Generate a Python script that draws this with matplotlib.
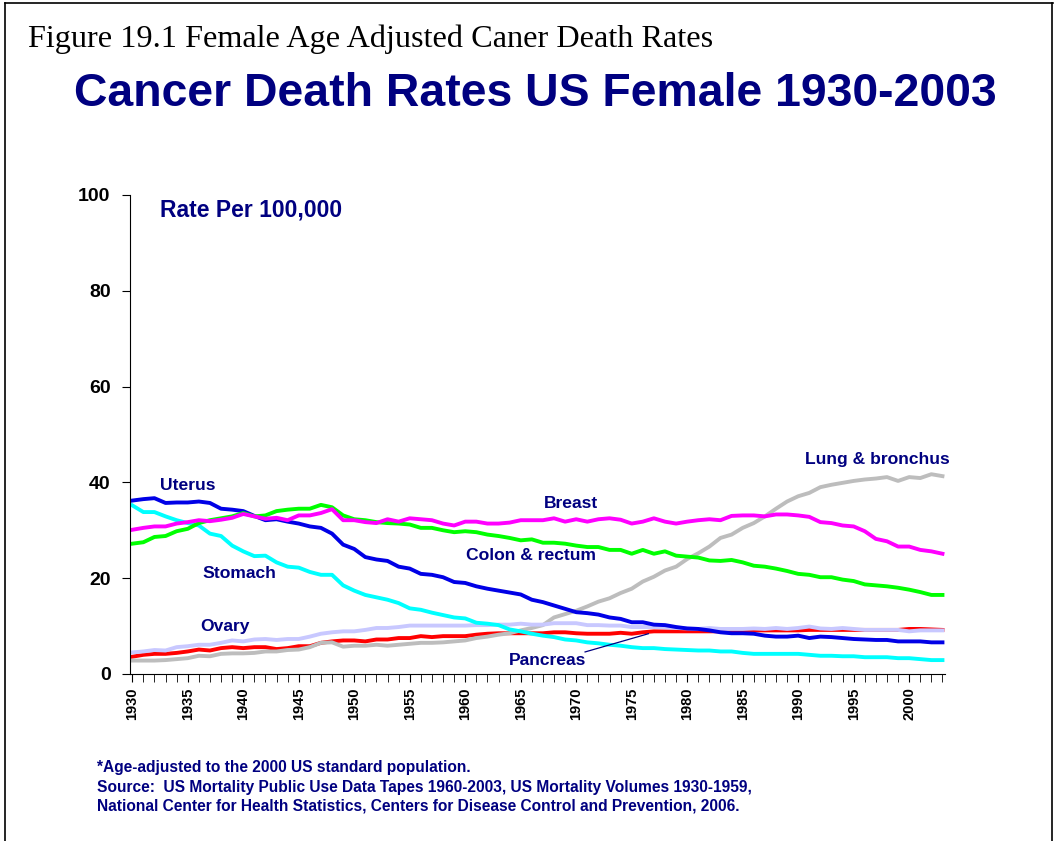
"""
female cancer death rates, US 1930-2003
"""

import matplotlib
matplotlib.use('Agg')
import matplotlib.pyplot as plt
from matplotlib.lines import Line2D
from matplotlib.ticker import MultipleLocator

years = list(range(1930, 2004))

# 数值从原图读出（每十万人死亡率）
uterus = [36.2, 36.5, 36.7, 35.7, 35.8, 35.8, 36.0, 35.7, 34.5, 34.3,
          34.0, 33.0, 32.1, 32.3, 31.8, 31.4, 30.8, 30.5, 29.3, 27.0,
          26.1, 24.4, 23.9, 23.6, 22.4, 22.0, 20.9, 20.7, 20.2, 19.2,
          19.0, 18.3, 17.8, 17.4, 17.0, 16.6, 15.5, 15.0, 14.3, 13.6,
          12.9, 12.7, 12.4, 11.8, 11.5, 10.8, 10.8, 10.3, 10.2, 9.8,
          9.5, 9.4, 9.1, 8.7, 8.5, 8.5, 8.4, 8.0, 7.8, 7.8,
          8.0, 7.5, 7.8, 7.7, 7.5, 7.3, 7.2, 7.1, 7.1, 6.8,
          6.8, 6.8, 6.6, 6.6]
stomach = [35.2, 33.8, 33.8, 32.9, 32.1, 31.5, 31.0, 29.3, 28.8, 26.8,
           25.6, 24.6, 24.7, 23.3, 22.4, 22.2, 21.3, 20.7, 20.7, 18.5,
           17.4, 16.5, 16.0, 15.5, 14.8, 13.7, 13.4, 12.8, 12.3, 11.8,
           11.6, 10.7, 10.5, 10.2, 9.3, 8.9, 8.4, 8.0, 7.7, 7.2,
           7.0, 6.6, 6.4, 6.1, 5.9, 5.6, 5.4, 5.4, 5.2, 5.1,
           5.0, 4.9, 4.9, 4.7, 4.7, 4.4, 4.2, 4.2, 4.2, 4.2,
           4.2, 4.0, 3.8, 3.8, 3.7, 3.7, 3.5, 3.5, 3.5, 3.3,
           3.3, 3.1, 2.9, 2.9]
breast = [30.1, 30.5, 30.8, 30.8, 31.4, 31.7, 32.1, 31.9, 32.2, 32.6,
          33.4, 32.9, 32.4, 32.6, 32.1, 33.1, 33.1, 33.6, 34.4, 32.1,
          32.1, 31.7, 31.5, 32.3, 31.8, 32.5, 32.3, 32.1, 31.4, 31.0,
          31.8, 31.8, 31.4, 31.4, 31.6, 32.1, 32.1, 32.1, 32.5, 31.8,
          32.3, 31.8, 32.3, 32.5, 32.2, 31.4, 31.8, 32.5, 31.8, 31.4,
          31.8, 32.1, 32.3, 32.1, 33.0, 33.1, 33.1, 32.9, 33.3, 33.3,
          33.1, 32.8, 31.7, 31.5, 31.0, 30.8, 29.8, 28.2, 27.7, 26.6,
          26.6, 25.9, 25.6, 25.1]
colon = [27.2, 27.5, 28.6, 28.8, 29.8, 30.3, 31.5, 32.1, 32.5, 32.9,
         33.6, 32.9, 33.1, 34.0, 34.3, 34.5, 34.5, 35.3, 34.8, 33.1,
         32.3, 32.1, 31.7, 31.5, 31.4, 31.2, 30.5, 30.5, 30.0, 29.6,
         29.8, 29.6, 29.1, 28.8, 28.4, 27.9, 28.1, 27.4, 27.4, 27.2,
         26.8, 26.5, 26.5, 25.9, 25.9, 25.1, 25.9, 25.1, 25.6, 24.7,
         24.5, 24.3, 23.7, 23.6, 23.8, 23.3, 22.6, 22.4, 22.0, 21.5,
         20.9, 20.7, 20.2, 20.2, 19.7, 19.4, 18.7, 18.5, 18.3, 18.0,
         17.6, 17.1, 16.5, 16.5]
lung = [2.8, 2.8, 2.8, 2.9, 3.1, 3.3, 3.8, 3.7, 4.2, 4.3,
        4.3, 4.4, 4.7, 4.7, 5.0, 5.1, 5.6, 6.5, 6.6, 5.7,
        5.9, 5.9, 6.1, 5.9, 6.1, 6.3, 6.5, 6.5, 6.6, 6.8,
        7.0, 7.5, 7.8, 8.2, 8.5, 9.1, 9.6, 10.2, 11.8, 12.5,
        13.2, 14.1, 15.1, 15.8, 16.9, 17.8, 19.3, 20.3, 21.6, 22.4,
        24.0, 25.2, 26.6, 28.4, 29.1, 30.5, 31.5, 32.9, 34.5, 36.0,
        37.1, 37.8, 39.0, 39.5, 39.9, 40.3, 40.6, 40.8, 41.1, 40.3,
        41.1, 40.9, 41.7, 41.3]
ovary = [4.5, 4.7, 5.0, 4.9, 5.6, 5.8, 6.1, 6.1, 6.5, 7.0,
         6.8, 7.2, 7.3, 7.1, 7.3, 7.3, 7.8, 8.4, 8.7, 8.9,
         8.9, 9.2, 9.6, 9.6, 9.8, 10.1, 10.1, 10.1, 10.1, 10.1,
         10.1, 10.2, 10.2, 10.3, 10.3, 10.5, 10.3, 10.3, 10.6, 10.6,
         10.6, 10.2, 10.2, 10.1, 10.1, 9.8, 9.8, 9.8, 9.7, 9.6,
         9.5, 9.4, 9.6, 9.4, 9.4, 9.4, 9.5, 9.4, 9.6, 9.4,
         9.6, 9.9, 9.5, 9.4, 9.6, 9.4, 9.2, 9.2, 9.2, 9.2,
         8.9, 9.1, 9.1, 9.1]
pancreas = [3.6, 4.0, 4.2, 4.2, 4.4, 4.7, 5.1, 4.9, 5.4, 5.6,
            5.4, 5.6, 5.6, 5.2, 5.4, 5.8, 5.8, 6.5, 6.8, 7.0,
            7.0, 6.8, 7.2, 7.2, 7.5, 7.5, 7.9, 7.7, 7.9, 7.9,
            7.9, 8.2, 8.4, 8.5, 8.5, 8.5, 8.5, 8.5, 8.7, 8.7,
            8.5, 8.4, 8.4, 8.4, 8.6, 8.4, 8.7, 8.9, 8.9, 8.9,
            8.9, 8.9, 8.9, 8.9, 8.9, 9.1, 9.1, 9.1, 9.1, 9.1,
            9.1, 9.2, 9.2, 9.2, 9.2, 9.2, 9.2, 9.2, 9.2, 9.2,
            9.4, 9.4, 9.3, 9.2]

navy = '#000080'
plt.rcParams['font.family'] = ['Liberation Sans', 'DejaVu Sans']

fig = plt.figure(figsize=(10.58, 8.41), dpi=100)

# 外框（上、左、右）
for seg in [((0.005, 0.995), (0.997, 0.997)),
            ((0.005, 0.005), (0.0, 0.997)),
            ((0.994, 0.994), (0.0, 0.997))]:
    fig.add_artist(Line2D(seg[0], seg[1], color='black', lw=1.2,
                          transform=fig.transFigure))

fig.text(0.026, 0.953, 'Figure 19.1 Female Age Adjusted Caner Death Rates',
         family='Liberation Serif', fontsize=23.2, color='black', va='center')
fig.text(0.506, 0.888, 'Cancer Death Rates US Female 1930-2003',
         fontsize=33.4, fontweight='bold', color=navy, ha='center', va='center')

ax = fig.add_axes([0.1229, 0.1986, 0.770, 0.5696])

series = [(pancreas, '#FF0000'), (lung, '#BDBDBD'), (ovary, '#C8C8FF'),
          (stomach, '#00FFFF'), (uterus, '#0000E6'), (colon, '#00FF00'),
          (breast, '#FF00FF')]
for vals, col in series:
    ax.plot(years, vals, color=col, lw=2.8, solid_joinstyle='round')

ax.set_xlim(1929.8, 2003.2)
ax.set_ylim(0, 100)
ax.spines['top'].set_visible(False)
ax.spines['right'].set_visible(False)
ax.set_yticks([0, 20, 40, 60, 80, 100])
ax.set_xticks(range(1930, 2004, 5))
ax.xaxis.set_minor_locator(MultipleLocator(1))
ax.tick_params(axis='y', direction='out', length=6, labelsize=14, pad=8)
ax.tick_params(axis='x', which='both', direction='out', length=6, labelsize=10.5)
for lab in ax.get_yticklabels():
    lab.set_fontweight('bold')
for lab in ax.get_xticklabels():
    lab.set_fontweight('bold')
    lab.set_rotation(90)

lbl = dict(fontsize=12.6, fontweight='bold', color=navy)
ax.text(1932.5, 96.8, 'Rate Per 100,000', fontsize=16.5, fontweight='bold',
        color=navy, va='center')
ax.text(1932.5, 39.3, 'Uterus', va='center', **lbl)
ax.text(1936.3, 20.9, 'Stomach', va='center', **lbl)
ax.text(1936.1, 10.0, 'Ovary', va='center', **lbl)
ax.text(1969.5, 35.6, 'Breast', ha='center', va='center', **lbl)
ax.text(1965.9, 24.7, 'Colon & rectum', ha='center', va='center', **lbl)
ax.text(1997.1, 44.8, 'Lung & bronchus', ha='center', va='center', **lbl)
ax.text(1967.4, 2.9, 'Pancreas', ha='center', va='center', **lbl)
ax.plot([1970.8, 1976.5], [4.6, 8.4], color=navy, lw=0.9)

foot = dict(fontsize=11.2, fontweight='bold', color=navy, va='center')
fig.text(0.092, 0.087, '*Age-adjusted to the 2000 US standard population.',
         **foot)
fig.text(0.092, 0.064, 'Source:  US Mortality Public Use Data Tapes 1960-2003, '
         'US Mortality Volumes 1930-1959,', **foot)
fig.text(0.092, 0.042, 'National Center for Health Statistics, Centers for '
         'Disease Control and Prevention, 2006.', **foot)

fig.savefig('out.png', dpi=100)
